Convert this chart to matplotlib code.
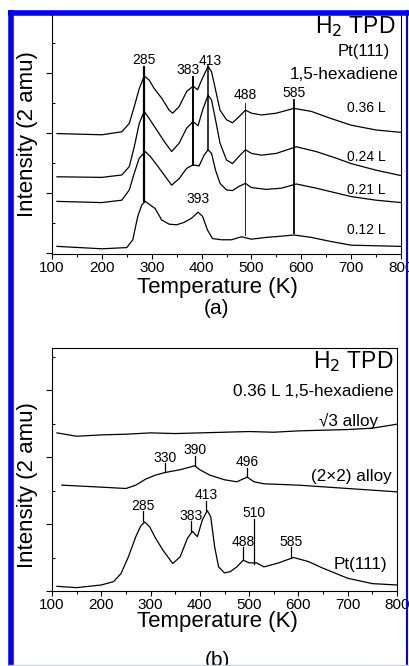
import matplotlib
matplotlib.use("Agg")
import matplotlib.pyplot as plt
from matplotlib.lines import Line2D
from matplotlib.ticker import MultipleLocator

plt.rcParams['font.family'] = ['Liberation Sans', 'DejaVu Sans']

# ---- panel (a): H2 TPD on Pt(111), four exposures (offset traces) ----
t_012 = [110, 200, 250, 262, 272, 280, 287, 297, 307, 320, 335, 350, 365, 380, 393, 402, 412, 422,
         440, 460, 480, 500, 530, 560, 585, 620, 660, 700, 750, 800]
i_012 = [0.11, 0.07, 0.09, 0.22, 0.61, 0.80, 0.86, 0.80, 0.74, 0.55, 0.48, 0.47, 0.51, 0.58, 0.68, 0.61, 0.38, 0.24,
         0.22, 0.22, 0.27, 0.23, 0.26, 0.28, 0.30, 0.26, 0.19, 0.13, 0.12, 0.11]

t_021 = [110, 200, 240, 255, 265, 275, 287, 297, 310, 325, 340, 355, 370, 383, 395, 405, 413, 420, 428, 437,
         450, 462, 475, 488, 500, 530, 560, 590, 630, 670, 700, 750, 800]
i_021 = [0.86, 0.84, 0.88, 1.05, 1.33, 1.58, 1.69, 1.61, 1.47, 1.30, 1.13, 1.24, 1.41, 1.47, 1.45, 1.63, 1.72, 1.66, 1.38, 1.16,
         1.05, 1.04, 1.11, 1.16, 1.09, 1.06, 1.08, 1.15, 1.08, 1.00, 0.94, 0.88, 0.84]

t_024 = [110, 200, 240, 255, 265, 275, 285, 295, 310, 325, 340, 355, 370, 383, 393, 402, 413, 420, 428, 437,
         450, 462, 475, 488, 500, 520, 550, 590, 630, 670, 700, 750, 800]
i_024 = [1.27, 1.26, 1.30, 1.44, 1.77, 2.16, 2.36, 2.24, 2.05, 1.86, 1.69, 1.83, 2.08, 2.19, 2.12, 2.38, 2.63, 2.55, 2.22, 1.83,
         1.55, 1.49, 1.61, 1.72, 1.66, 1.63, 1.66, 1.77, 1.69, 1.58, 1.49, 1.38, 1.29]

t_036 = [110, 200, 240, 255, 265, 275, 285, 295, 305, 320, 335, 342, 355, 370, 383, 392, 400, 413, 420, 428, 437,
         450, 462, 475, 488, 500, 520, 550, 585, 620, 660, 700, 750, 800]
i_036 = [1.99, 1.97, 2.02, 2.16, 2.44, 2.74, 2.95, 2.88, 2.74, 2.58, 2.38, 2.33, 2.44, 2.69, 2.78, 2.72, 2.88, 3.11, 3.02, 2.72, 2.38,
         2.22, 2.17, 2.27, 2.38, 2.33, 2.30, 2.33, 2.41, 2.36, 2.24, 2.13, 2.05, 2.01]

a_curves = [(t_012, i_012), (t_021, i_021), (t_024, i_024), (t_036, i_036)]
a_names = ['0.12 L', '0.21 L', '0.24 L', '0.36 L']
a_name_y = [0.38, 1.05, 1.60, 2.41]

# peak markers: temperature, label x, label y, line top, line bottom, width
a_peaks = [285, 383, 413, 488, 585]
a_peak_x = [285, 372, 417, 488, 585]
a_peak_lbl = [3.22, 3.05, 3.20, 2.63, 2.67]
a_line_top = [3.10, 2.93, 3.11, 2.50, 2.55]
a_line_bot = [0.86, 1.47, 1.72, 0.30, 0.33]
a_line_w = [1.6, 1.4, 1.1, 0.6, 1.3]

# ---- panel (b): 0.36 L on Pt(111) and Sn/Pt alloys ----
t_sq3 = [110, 150, 200, 250, 300, 350, 400, 450, 500, 550, 600, 650, 700, 750, 800]
i_sq3 = [2.36, 2.31, 2.33, 2.34, 2.36, 2.35, 2.36, 2.37, 2.38, 2.37, 2.39, 2.40, 2.41, 2.43, 2.49]

t_2x2 = [120, 200, 250, 270, 290, 310, 330, 360, 380, 390, 400, 420, 450, 475, 496, 510, 530, 600, 700, 800]
i_2x2 = [1.58, 1.55, 1.53, 1.58, 1.67, 1.73, 1.77, 1.81, 1.85, 1.87, 1.81, 1.73, 1.66, 1.63, 1.70, 1.63, 1.60, 1.58, 1.53, 1.48]

t_pt = [110, 150, 200, 225, 240, 255, 270, 280, 288, 298, 310, 325, 345, 360, 375, 385, 395, 405, 415, 422, 430, 438,
        450, 462, 475, 488, 500, 515, 530, 560, 590, 620, 650, 700, 750, 800]
i_pt = [0.07, 0.05, 0.09, 0.14, 0.26, 0.51, 0.81, 0.97, 1.03, 0.96, 0.79, 0.61, 0.41, 0.51, 0.79, 0.89, 0.81, 1.06, 1.20, 1.11, 0.66, 0.36,
        0.27, 0.29, 0.36, 0.46, 0.42, 0.42, 0.36, 0.42, 0.50, 0.44, 0.34, 0.19, 0.11, 0.09]

b_curves = [(t_pt, i_pt), (t_2x2, i_2x2), (t_sq3, i_sq3)]
b_names = ['Pt(111)', '(2\u00d72) alloy', '\u221a3 alloy']
b_name_x = [725, 708, 702]
b_name_y = [0.40, 1.71, 2.54]

b_peaks = [330, 390, 496, 285, 383, 413, 488, 510, 585]
b_peak_lbl = [1.99, 2.10, 1.92, 1.27, 1.12, 1.43, 0.73, 1.17, 0.73]
b_line_top = [1.91, 2.02, 1.84, 1.19, 1.04, 1.35, 0.65, 1.08, 0.65]
b_line_bot = [1.78, 1.87, 1.70, 1.04, 0.90, 1.21, 0.47, 0.41, 0.50]

W, H = 409, 666
fig = plt.figure(figsize=(W / 100, H / 100), dpi=100)


def px_axes(x0, y0, x1, y1):
    return fig.add_axes([x0 / W, 1 - y1 / H, (x1 - x0) / W, (y1 - y0) / H])


def style(ax, ylo, yhi):
    ax.set_xlim(100, 800)
    ax.set_ylim(ylo, yhi)
    ax.xaxis.set_major_locator(MultipleLocator(100))
    ax.xaxis.set_minor_locator(MultipleLocator(50))
    ax.yaxis.set_major_locator(MultipleLocator(1))
    ax.yaxis.set_minor_locator(MultipleLocator(0.5))
    ax.tick_params(axis='x', which='major', direction='out', length=3.5, width=0.8,
                   labelsize=11, pad=1.5)
    ax.tick_params(axis='x', which='minor', direction='out', length=2, width=0.8)
    ax.tick_params(axis='y', which='major', direction='out', length=4.5, width=0.8,
                   labelleft=False)
    ax.tick_params(axis='y', which='minor', direction='in', length=2, width=0.8)
    for s in ax.spines.values():
        s.set_linewidth(0.8)


# panel (a)
ax1 = px_axes(52, 14, 401, 254)
style(ax1, -0.017, 3.983)
for (t, v) in a_curves:
    ax1.plot(t, v, color='black', lw=0.9)
for n, y in zip(a_names, a_name_y):
    ax1.text(730, y, n, fontsize=10, ha='center', va='center')
for p, lx, ly, top, bot, w in zip(a_peaks, a_peak_x, a_peak_lbl, a_line_top, a_line_bot, a_line_w):
    ax1.plot([p, p], [bot, top], color='black', lw=w)
    ax1.text(lx, ly, str(p), fontsize=10, ha='center', va='center')
ax1.text(393, 0.90, '393', fontsize=10, ha='center', va='center')
ax1.text(790, 3.78, 'H$_2$ TPD', fontsize=16.5, ha='right', va='center')
ax1.text(726, 3.36, 'Pt(111)', fontsize=12, ha='center', va='center')
ax1.text(795, 2.97, '1,5-hexadiene', fontsize=12.3, ha='right', va='center')

# panel (b)
ax2 = px_axes(52, 348, 397, 591)
style(ax2, 0, 3.627)
for (t, v) in b_curves:
    ax2.plot(t, v, color='black', lw=0.9)
for n, x, y in zip(b_names, b_name_x, b_name_y):
    ax2.text(x, y, n, fontsize=12.3, ha='center', va='center')
for p, ly, top, bot in zip(b_peaks, b_peak_lbl, b_line_top, b_line_bot):
    ax2.plot([p, p], [bot, top], color='black', lw=0.9)
    ax2.text(p, ly, str(p), fontsize=10, ha='center', va='center')
ax2.text(793, 3.42, 'H$_2$ TPD', fontsize=16.5, ha='right', va='center')
ax2.text(793, 2.98, '0.36 L 1,5-hexadiene', fontsize=12.3, ha='right', va='center')

# axis titles and panel letters
for yc, lab in [(287, 'Temperature (K)'), (309, '(a)'), (621, 'Temperature (K)'), (660, '(b)')]:
    fs = 16 if lab.startswith('T') else 15
    fig.text(217 / W, 1 - yc / H, lab, fontsize=fs, ha='center', va='center')
fig.text(28 / W, 1 - 134 / H, 'Intensity (2 amu)', fontsize=16, rotation=90,
         ha='center', va='center')
fig.text(28 / W, 1 - 485 / H, 'Intensity (2 amu)', fontsize=16, rotation=90,
         ha='center', va='center')


# blue selection frame
def fline(xs, ys, c, lw):
    fig.add_artist(Line2D([x / W for x in xs], [1 - y / H for y in ys],
                          color=c, lw=lw, zorder=10, solid_capstyle='butt'))


fline([10.5, 10.5], [10, 666], '#0000ff', 4.0)
fline([8, 409], [12.5, 12.5], '#0000ff', 4.0)
fline([406.5, 406.5], [10, 666], '#0000ff', 1.5)
fline([8, 409], [664.5, 664.5], '#c8c8f0', 1.0)

fig.savefig('out.png', dpi=100)
